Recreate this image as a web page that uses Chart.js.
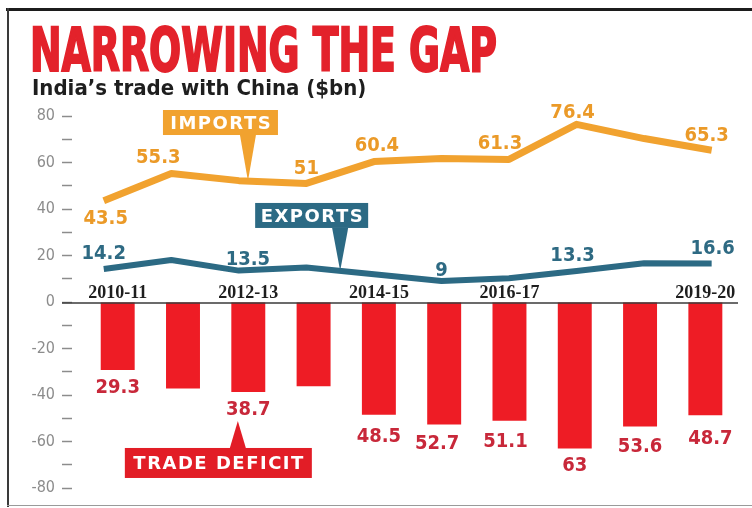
<!DOCTYPE html>
<html>
<head>
<meta charset="utf-8">
<script src="https://cdn.jsdelivr.net/npm/chart.js@4"></script>
<style>
html,body{margin:0;padding:0;background:#fff;}
#wrap{position:relative;width:752px;height:508px;overflow:hidden;background:#fff;}
#c{position:absolute;left:0;top:0;}
#title{position:absolute;left:30px;top:20px;font-family:"DejaVu Sans Condensed","DejaVu Sans",sans-serif;font-weight:bold;font-size:60px;line-height:60px;color:#e3222b;white-space:nowrap;transform:scaleX(0.70);transform-origin:0 0;-webkit-text-stroke:2px #e3222b;}
#sub{position:absolute;left:32px;top:77px;font-family:"DejaVu Sans Condensed","DejaVu Sans",sans-serif;font-weight:bold;font-size:22px;line-height:22px;color:#1e1e1e;white-space:nowrap;}
.fr{position:absolute;}
</style>
</head>
<body>
<div id="wrap">
  <canvas id="c" width="752" height="508"></canvas>
  <div class="fr" style="left:6px;top:8px;width:746px;height:3px;background:#1c1c1c;"></div>
  <div class="fr" style="left:7px;top:8px;width:2px;height:499px;background:#3a3a3a;"></div>
  <div class="fr" style="left:7px;top:505px;width:745px;height:1px;background:#9a9a9a;"></div>
  <div id="title">NARROWING THE GAP</div>
  <div id="sub">India’s trade with China ($bn)</div>
</div>
<script>
// ---------------- DATA ----------------
const years = ['2010-11','2011-12','2012-13','2013-14','2014-15','2015-16','2016-17','2017-18','2018-19','2019-20'];
const imports = [43.5, 55.3, 52.2, 51.0, 60.4, 61.7, 61.3, 76.4, 70.3, 65.3];
const exportsV = [14.2, 18.1, 13.5, 14.8, 11.9, 9.0, 10.2, 13.3, 16.7, 16.6];
const deficit = [29.3, 37.2, 38.7, 36.2, 48.5, 52.7, 51.1, 63.0, 53.6, 48.7];
const yearTickLabels = ['2010-11','2012-13','2014-15','2016-17','2019-20'];
const yTickValues = [80, 60, 40, 20, 0, -20, -40, -60, -80];

// ---------------- STYLE / LAYOUT ----------------
const COL = {
  imp:'#f1a22f', impText:'#eb9a28',
  exp:'#2c6a84', expText:'#2e6a83',
  bar:'#ee1c25', defText:'#c8283a', defBox:'#e21d26',
  tick:'#8c8c8c', axis:'#3a3a3a'
};
const FONT_CON = '"DejaVu Sans Condensed","DejaVu Sans",sans-serif';
// which points carry a value label and the label nudge [index, dx, dy]
const impLabels = [[0,2,16],[1,-13,-18],[3,0,-17],[4,3,-18],[6,-9,-18],[7,-4,-14],[9,-5,-16]];
const expLabels = [[0,0,-17],[2,9,-13],[5,0,-12],[7,-4,-17],[9,1,-17]];
const defLabels = [[0,0,16],[2,0,16],[4,0,20],[5,-7,17],[6,-4,19],[7,0,15],[8,0,18],[9,5,21]];

function interp(arr, x){
  const i = Math.max(0, Math.min(arr.length-2, Math.floor(x)));
  const f = x - i;
  return arr[i] + (arr[i+1]-arr[i])*f;
}

const callouts = [
  {text:'IMPORTS', fill:COL.imp, scale:'xl', x:2.135, val:(x)=>interp(imports,x), dy:0, box:[-85,30,-71,-46]},
  {text:'EXPORTS', fill:COL.exp, scale:'xl', x:3.5, val:(x)=>interp(exportsV,x), dy:0, box:[-85,28,-68,-43]},
  {text:'TRADE DEFICIT', fill:COL.defBox, scale:'xb', x:1.84, val:()=>-deficit[2], dy:29, box:[-113,74,27,57]}
];

const annot = {
  id:'annot',
  afterDatasetsDraw(chart){
    const {ctx, chartArea:ca} = chart;
    const xb = chart.scales.xb, xl = chart.scales.xl, y = chart.scales.y;
    const y0 = y.getPixelForValue(0);
    ctx.save();
    // zero line
    ctx.strokeStyle = COL.axis; ctx.lineWidth = 1.5;
    ctx.beginPath(); ctx.moveTo(ca.left-10, y0+1); ctx.lineTo(ca.right, y0+1); ctx.stroke();
    // year labels
    ctx.fillStyle = '#1e1e1e';
    ctx.font = 'bold 18px "Liberation Serif", serif';
    ctx.textAlign = 'center'; ctx.textBaseline = 'alphabetic';
    yearTickLabels.forEach(t => {
      const i = years.indexOf(t);
      ctx.fillText(t, xb.getPixelForValue(i), y0 - 4);
    });
    // value labels
    ctx.font = 'bold 20px ' + FONT_CON;
    const cap = 7.3;
    ctx.fillStyle = COL.impText;
    impLabels.forEach(([i,dx,dy]) => {
      ctx.fillText(String(imports[i]).replace(/\.0$/,''), xl.getPixelForValue(i)+dx, y.getPixelForValue(imports[i])+dy+cap);
    });
    ctx.fillStyle = COL.expText;
    expLabels.forEach(([i,dx,dy]) => {
      ctx.fillText(String(exportsV[i]).replace(/\.0$/,''), xl.getPixelForValue(i)+dx, y.getPixelForValue(exportsV[i])+dy+cap);
    });
    ctx.fillStyle = COL.defText;
    defLabels.forEach(([i,dx,dy]) => {
      ctx.fillText(String(deficit[i]).replace(/\.0$/,''), xb.getPixelForValue(i)+dx, y.getPixelForValue(-deficit[i])+dy+cap);
    });
    // callouts
    callouts.forEach(c => {
      const sc = chart.scales[c.scale];
      const tx = sc.getPixelForValue(c.x);
      const ty = y.getPixelForValue(c.val(c.x)) + c.dy;
      const L = tx+c.box[0], R = tx+c.box[1], T = ty+c.box[2], B = ty+c.box[3];
      ctx.fillStyle = c.fill;
      ctx.fillRect(L, T, R-L, B-T);
      const edge = c.box[2] > 0 ? T : B;
      ctx.beginPath();
      ctx.moveTo(tx-8, edge); ctx.lineTo(tx+8, edge); ctx.lineTo(tx, ty); ctx.closePath(); ctx.fill();
      ctx.fillStyle = '#ffffff';
      ctx.font = 'bold 18px "DejaVu Sans", sans-serif';
      try { ctx.letterSpacing = '1.5px'; } catch(e){}
      ctx.textAlign = 'center';
      ctx.fillText(c.text, (L+R)/2 + 0.75, (T+B)/2 + 6.5);
      try { ctx.letterSpacing = '0px'; } catch(e){}
    });
    ctx.restore();
  }
};

new Chart(document.getElementById('c'), {
  data: {
    datasets: [
      {type:'bar', label:'Trade deficit', xAxisID:'xb', yAxisID:'y',
       data: deficit.map((v,i)=>({x:i, y:-v})), backgroundColor: COL.bar,
       grouped:false, categoryPercentage:1, barPercentage:0.52, borderWidth:0},
      {type:'line', label:'Imports', xAxisID:'xl', yAxisID:'y',
       data: imports.map((v,i)=>({x:i, y:v})), borderColor: COL.imp, borderWidth:7, pointRadius:0, tension:0, borderJoinStyle:'round', borderCapStyle:'butt', fill:false},
      {type:'line', label:'Exports', xAxisID:'xl', yAxisID:'y',
       data: exportsV.map((v,i)=>({x:i, y:v})), borderColor: COL.exp, borderWidth:6, pointRadius:0, tension:0, borderJoinStyle:'round', borderCapStyle:'butt', fill:false}
    ]
  },
  options: {
    responsive:false, animation:false, devicePixelRatio:1,
    layout:{padding:{left:8, right:14, top:116, bottom:20}},
    plugins:{legend:{display:false}, tooltip:{enabled:false}, title:{display:false}},
    scales:{
      xb:{type:'linear', display:false, offset:false, grid:{offset:false}, min:-0.7, max:9.5,
          afterBuildTicks:(s)=>{ s.ticks = years.map((_,i)=>({value:i})); }},
      xl:{type:'linear', display:false, offset:false, grid:{offset:false}, min:-0.47, max:9.39},
      y:{type:'linear', position:'left', min:-80, max:80,
         afterFit:(s)=>{ s.width = 64; },
         afterBuildTicks:(s)=>{ const t=[]; for(let v=-80; v<=80; v+=10) t.push({value:v}); s.ticks = t; },
         ticks:{stepSize:10, padding:7, color:COL.tick, font:{family:FONT_CON, size:16},
                callback:(v)=> yTickValues.includes(v) ? String(v) : ''},
         grid:{display:true, drawOnChartArea:false, drawTicks:true, tickLength:10, tickColor:COL.tick, tickWidth:1.5},
         border:{display:false}}
    }
  },
  plugins:[annot]
});
</script>
</body>
</html>
